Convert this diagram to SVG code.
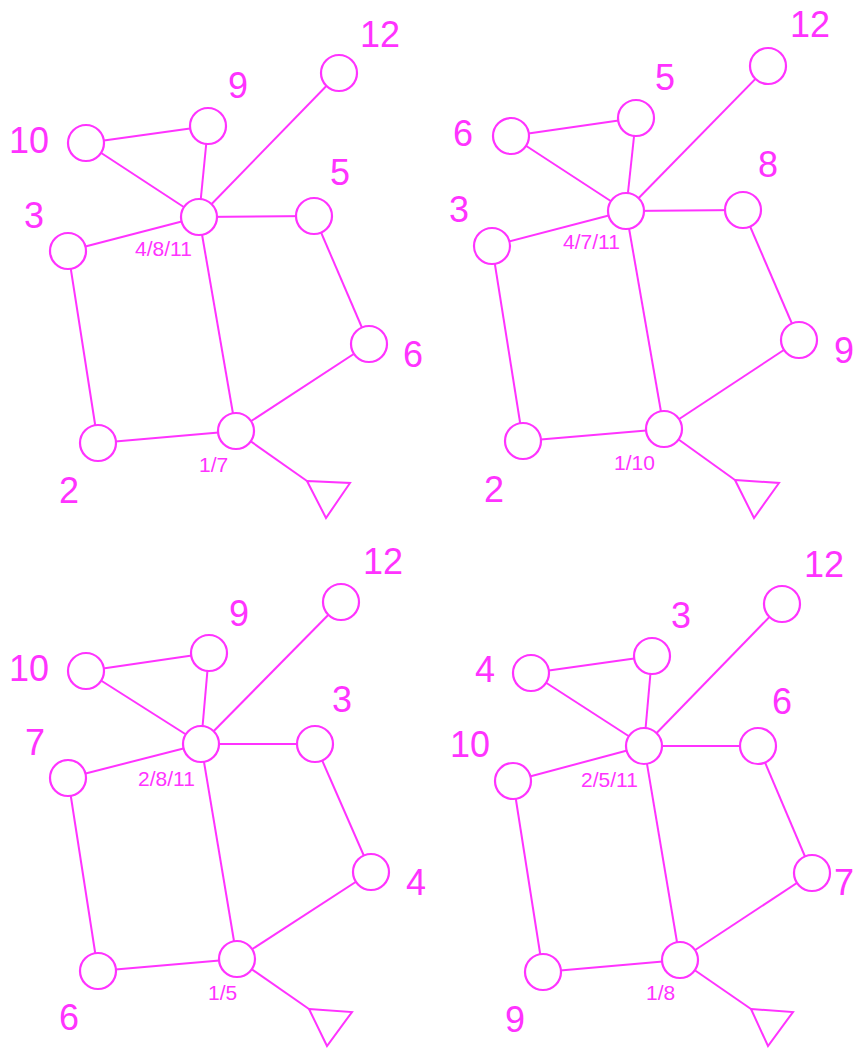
<svg xmlns="http://www.w3.org/2000/svg" width="856" height="1050" viewBox="0 0 856 1050">
<style>
.n circle{fill:#fff;stroke:#f3f;stroke-width:2.2}
.e line{stroke:#f3f;stroke-width:2}
.t polygon{fill:#fff;stroke:#f3f;stroke-width:2;stroke-linejoin:miter}
text{fill:#f3f;font-family:"Liberation Sans",Arial,sans-serif}
.lb{font-size:36px}
.sm{font-size:21px}
</style>
<rect width="856" height="1050" fill="#fff"/>

<!-- Panel 1 -->
<g id="connectors-p1" class="e">
<line x1="86" y1="143" x2="208" y2="126"/>
<line x1="86" y1="143" x2="199" y2="217"/>
<line x1="208" y1="126" x2="199" y2="217"/>
<line x1="339" y1="73" x2="199" y2="217"/>
<line x1="199" y1="217" x2="314" y2="216"/>
<line x1="68" y1="251" x2="199" y2="217"/>
<line x1="68" y1="251" x2="98" y2="443"/>
<line x1="199" y1="217" x2="236" y2="431"/>
<line x1="314" y1="216" x2="369" y2="344"/>
<line x1="369" y1="344" x2="236" y2="431"/>
<line x1="98" y1="443" x2="236" y2="431"/>
<line x1="236" y1="431" x2="307" y2="481"/>
</g>
<g id="p1-n12" class="n"><circle cx="339" cy="73" r="18"/><text class="lb" x="360" y="47">12</text></g>
<g id="p1-n9" class="n"><circle cx="208" cy="126" r="18"/><text class="lb" x="228" y="98">9</text></g>
<g id="p1-n10" class="n"><circle cx="86" cy="143" r="18"/><text class="lb" x="9" y="153">10</text></g>
<g id="p1-hub" class="n"><circle cx="199" cy="217" r="18"/><text class="sm" x="135" y="256">4/8/11</text></g>
<g id="p1-n5" class="n"><circle cx="314" cy="216" r="18"/><text class="lb" x="330" y="185">5</text></g>
<g id="p1-n3" class="n"><circle cx="68" cy="251" r="18"/><text class="lb" x="24" y="228">3</text></g>
<g id="p1-n6" class="n"><circle cx="369" cy="344" r="18"/><text class="lb" x="403" y="367">6</text></g>
<g id="p1-n2" class="n"><circle cx="98" cy="443" r="18"/><text class="lb" x="59" y="503">2</text></g>
<g id="p1-root" class="n"><circle cx="236" cy="431" r="18"/><text class="sm" x="199" y="472">1/7</text></g>
<g id="p1-ground" class="t"><polygon points="307,481 350,483 326,518"/></g>

<!-- Panel 2 -->
<g id="connectors-p2" class="e">
<line x1="511" y1="136" x2="636" y2="118"/>
<line x1="511" y1="136" x2="626" y2="211"/>
<line x1="636" y1="118" x2="626" y2="211"/>
<line x1="768" y1="66" x2="626" y2="211"/>
<line x1="626" y1="211" x2="743" y2="210"/>
<line x1="492" y1="246" x2="626" y2="211"/>
<line x1="492" y1="246" x2="523" y2="441"/>
<line x1="626" y1="211" x2="664" y2="429"/>
<line x1="743" y1="210" x2="799" y2="340"/>
<line x1="799" y1="340" x2="664" y2="429"/>
<line x1="523" y1="441" x2="664" y2="429"/>
<line x1="664" y1="429" x2="735" y2="480"/>
</g>
<g id="p2-n12" class="n"><circle cx="768" cy="66" r="18"/><text class="lb" x="790" y="37">12</text></g>
<g id="p2-n5" class="n"><circle cx="636" cy="118" r="18"/><text class="lb" x="655" y="90">5</text></g>
<g id="p2-n6" class="n"><circle cx="511" cy="136" r="18"/><text class="lb" x="453" y="146">6</text></g>
<g id="p2-hub" class="n"><circle cx="626" cy="211" r="18"/><text class="sm" x="563" y="249">4/7/11</text></g>
<g id="p2-n8" class="n"><circle cx="743" cy="210" r="18"/><text class="lb" x="758" y="177">8</text></g>
<g id="p2-n3" class="n"><circle cx="492" cy="246" r="18"/><text class="lb" x="449" y="222">3</text></g>
<g id="p2-n9" class="n"><circle cx="799" cy="340" r="18"/><text class="lb" x="834" y="363">9</text></g>
<g id="p2-n2" class="n"><circle cx="523" cy="441" r="18"/><text class="lb" x="484" y="502">2</text></g>
<g id="p2-root" class="n"><circle cx="664" cy="429" r="18"/><text class="sm" x="614" y="470">1/10</text></g>
<g id="p2-ground" class="t"><polygon points="735,480 779,483 754,518"/></g>

<!-- Panel 3 -->
<g id="connectors-p3" class="e">
<line x1="86" y1="671" x2="209" y2="653"/>
<line x1="86" y1="671" x2="201" y2="744"/>
<line x1="209" y1="653" x2="201" y2="744"/>
<line x1="341" y1="602" x2="201" y2="744"/>
<line x1="201" y1="744" x2="315" y2="744"/>
<line x1="68" y1="778" x2="201" y2="744"/>
<line x1="68" y1="778" x2="98" y2="971"/>
<line x1="201" y1="744" x2="237" y2="959"/>
<line x1="315" y1="744" x2="371" y2="872"/>
<line x1="371" y1="872" x2="237" y2="959"/>
<line x1="98" y1="971" x2="237" y2="959"/>
<line x1="237" y1="959" x2="309" y2="1009"/>
</g>
<g id="p3-n12" class="n"><circle cx="341" cy="602" r="18"/><text class="lb" x="363" y="574">12</text></g>
<g id="p3-n9" class="n"><circle cx="209" cy="653" r="18"/><text class="lb" x="229" y="626">9</text></g>
<g id="p3-n10" class="n"><circle cx="86" cy="671" r="18"/><text class="lb" x="9" y="681">10</text></g>
<g id="p3-hub" class="n"><circle cx="201" cy="744" r="18"/><text class="sm" x="138" y="786">2/8/11</text></g>
<g id="p3-n3" class="n"><circle cx="315" cy="744" r="18"/><text class="lb" x="332" y="712">3</text></g>
<g id="p3-n7" class="n"><circle cx="68" cy="778" r="18"/><text class="lb" x="25" y="755">7</text></g>
<g id="p3-n4" class="n"><circle cx="371" cy="872" r="18"/><text class="lb" x="406" y="895">4</text></g>
<g id="p3-n6" class="n"><circle cx="98" cy="971" r="18"/><text class="lb" x="59" y="1030">6</text></g>
<g id="p3-root" class="n"><circle cx="237" cy="959" r="18"/><text class="sm" x="208" y="1000">1/5</text></g>
<g id="p3-ground" class="t"><polygon points="309,1009 352,1012 327,1046"/></g>

<!-- Panel 4 -->
<g id="connectors-p4" class="e">
<line x1="531" y1="673" x2="652" y2="656"/>
<line x1="531" y1="673" x2="644" y2="746"/>
<line x1="652" y1="656" x2="644" y2="746"/>
<line x1="782" y1="604" x2="644" y2="746"/>
<line x1="644" y1="746" x2="758" y2="746"/>
<line x1="513" y1="781" x2="644" y2="746"/>
<line x1="513" y1="781" x2="543" y2="972"/>
<line x1="644" y1="746" x2="680" y2="960"/>
<line x1="758" y1="746" x2="812" y2="873"/>
<line x1="812" y1="873" x2="680" y2="960"/>
<line x1="543" y1="972" x2="680" y2="960"/>
<line x1="680" y1="960" x2="751" y2="1009"/>
</g>
<g id="p4-n12" class="n"><circle cx="782" cy="604" r="18"/><text class="lb" x="804" y="577">12</text></g>
<g id="p4-n3" class="n"><circle cx="652" cy="656" r="18"/><text class="lb" x="671" y="628">3</text></g>
<g id="p4-n4" class="n"><circle cx="531" cy="673" r="18"/><text class="lb" x="475" y="682">4</text></g>
<g id="p4-hub" class="n"><circle cx="644" cy="746" r="18"/><text class="sm" x="581" y="787">2/5/11</text></g>
<g id="p4-n6" class="n"><circle cx="758" cy="746" r="18"/><text class="lb" x="772" y="714">6</text></g>
<g id="p4-n10" class="n"><circle cx="513" cy="781" r="18"/><text class="lb" x="450" y="757">10</text></g>
<g id="p4-n7" class="n"><circle cx="812" cy="873" r="18"/><text class="lb" x="834" y="895">7</text></g>
<g id="p4-n9" class="n"><circle cx="543" cy="972" r="18"/><text class="lb" x="505" y="1032">9</text></g>
<g id="p4-root" class="n"><circle cx="680" cy="960" r="18"/><text class="sm" x="646" y="1000">1/8</text></g>
<g id="p4-ground" class="t"><polygon points="751,1009 793,1012 768,1046"/></g>
</svg>
